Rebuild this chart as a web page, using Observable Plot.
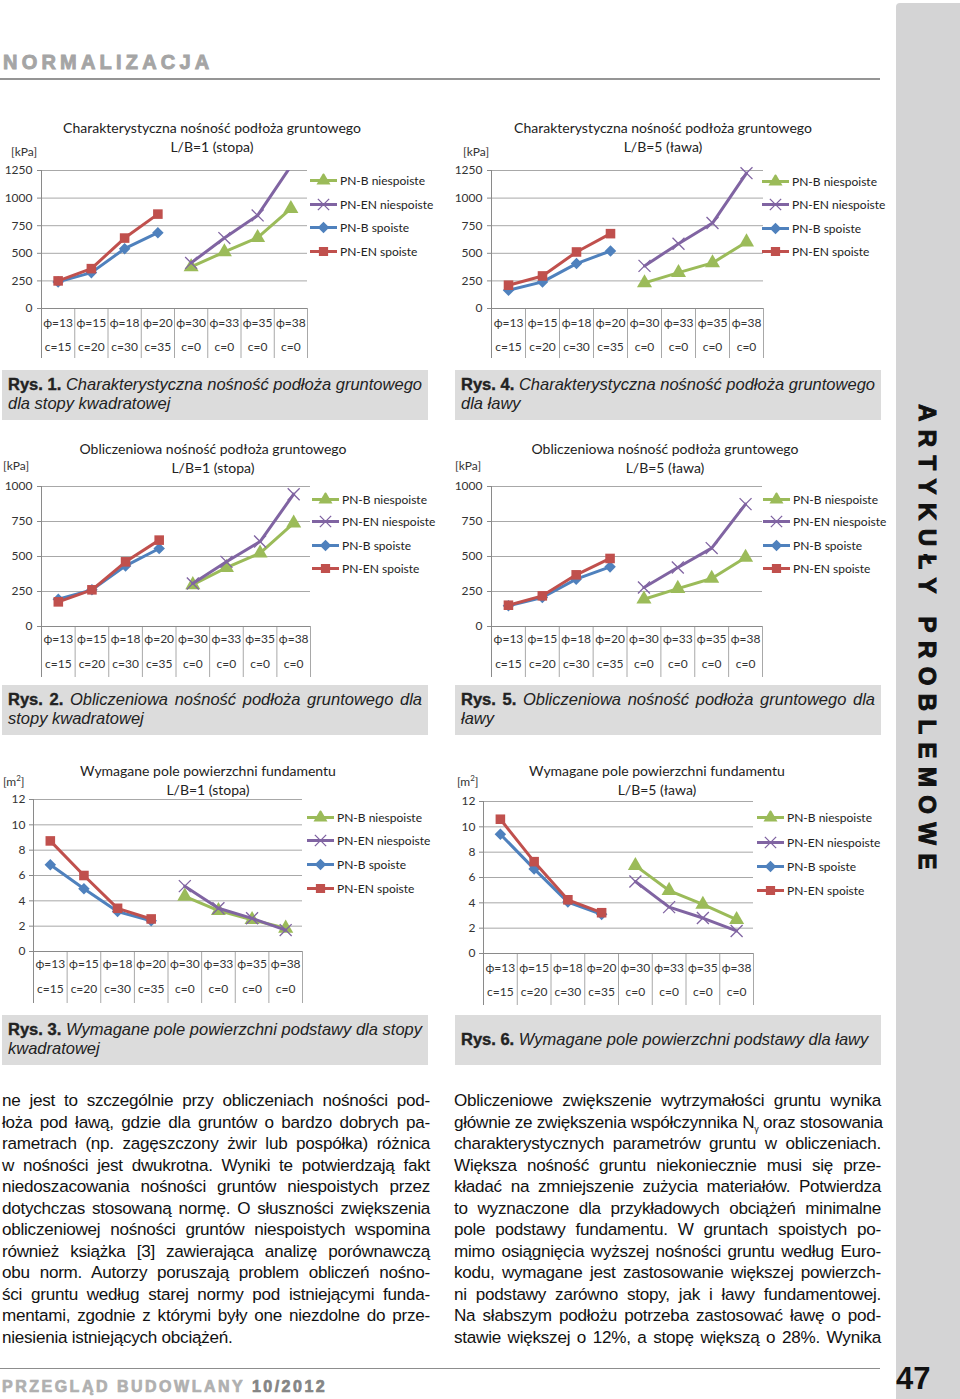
<!DOCTYPE html>
<html>
<head>
<meta charset="utf-8">
<script src="https://cdn.jsdelivr.net/npm/d3@7"></script>
<script src="https://cdn.jsdelivr.net/npm/@observablehq/plot@0.6"></script>
<style>
  body { margin: 0; background: #fff; }
  #page { position: relative; width: 960px; height: 1399px; overflow: hidden; background: #fff;
          font-family: "Liberation Sans", Arial, sans-serif; color: #1a1a1a; }
  .abs { position: absolute; }
  .ctitle { position: absolute; font-family: Lato, "Open Sans", sans-serif; font-size: 14px; color: #222;
            text-align: center; white-space: nowrap; transform: translate(-50%, -50%); }
  .unit { position: absolute; font-family: Lato, "Open Sans", sans-serif; font-size: 12px; color: #333;
          white-space: nowrap; transform: translateY(-50%); }
  .leg { position: absolute; font-family: Lato, "Open Sans", sans-serif; font-size: 12px; color: #222;
         white-space: nowrap; display: flex; align-items: center; transform: translateY(-50%); }
  .leg svg { margin-right: 3px; }
  .cap { position: absolute; background: #dcdcdc; box-sizing: border-box; padding: 5px 6px 0 6px;
         font-size: 16.5px; line-height: 19px; color: #222; }
  .cap b { font-weight: bold; font-style: normal; -webkit-text-stroke: 0.4px #222; }
  .cap i { font-style: italic; }
  .jl { text-align: justify; text-align-last: justify; white-space: nowrap; }
  .col { position: absolute; font-size: 17.1px; line-height: 21.5px; color: #111; letter-spacing: -0.25px; }
  .col div { white-space: nowrap; }
  .col .jl { text-align: justify; text-align-last: justify; }
</style>
</head>
<body>
<div id="page"></div>
<script>
// ---------------- DATA ----------------
const categories = ["ϕ=13","ϕ=15","ϕ=18","ϕ=20","ϕ=30","ϕ=33","ϕ=35","ϕ=38"];
const cohesion = ["c=15","c=20","c=30","c=35","c=0","c=0","c=0","c=0"];
const seriesNames = ["PN-B niespoiste","PN-EN niespoiste","PN-B spoiste","PN-EN spoiste"];
const seriesColors = ["#9BBB59","#8064A2","#4F81BD","#C0504D"];
const seriesSymbols = ["triangle","times","diamond2","square"];

const kpaTicksA = [0,250,500,750,1000,1250];
const kpaTicksB = [0,250,500,750,1000];
const areaTicks = [0,2,4,6,8,10,12];

// Rys. 1 – charakterystyczna nośność, stopa (kPa)
const rys1_pnbNiespoiste = [376, 512, 641, 904];
const rys1_pnenNiespoiste = [413, 638, 843, 1290];
const rys1_pnbSpoiste = [241, 325, 542, 687];
const rys1_pnenSpoiste = [250, 361, 638, 855];
// Rys. 4 – charakterystyczna nośność, ława (kPa)
const rys4_pnbNiespoiste = [232, 325, 413, 602];
const rys4_pnenNiespoiste = [386, 587, 774, 1226];
const rys4_pnbSpoiste = [166, 241, 407, 521];
const rys4_pnenSpoiste = [211, 295, 512, 678];
// Rys. 2 – obliczeniowa nośność, stopa (kPa)
const rys2_pnbNiespoiste = [298, 421, 524, 738];
const rys2_pnenNiespoiste = [307, 462, 607, 945];
const rys2_pnbSpoiste = [195, 262, 433, 557];
const rys2_pnenSpoiste = [176, 262, 462, 617];
// Rys. 5 – obliczeniowa nośność, ława (kPa)
const rys5_pnbNiespoiste = [195, 271, 343, 493];
const rys5_pnenNiespoiste = [279, 421, 560, 874];
const rys5_pnbSpoiste = [148, 207, 338, 426];
const rys5_pnenSpoiste = [152, 219, 369, 486];
// Rys. 3 – wymagane pole, stopa (m2)
const rys3_pnbNiespoiste = [4.36, 3.23, 2.51, 1.83];
const rys3_pnenNiespoiste = [5.16, 3.41, 2.62, 1.69];
const rys3_pnbSpoiste = [6.85, 4.95, 3.15, 2.43];
const rys3_pnenSpoiste = [8.73, 6.0, 3.41, 2.57];
// Rys. 6 – wymagane pole, ława (m2)
const rys6_pnbNiespoiste = [6.94, 4.97, 3.87, 2.67];
const rys6_pnenNiespoiste = [5.68, 3.66, 2.80, 1.78];
const rys6_pnbSpoiste = [9.42, 6.68, 4.06, 3.09];
const rys6_pnenSpoiste = [10.6, 7.25, 4.24, 3.22];

// ---------------- LAYOUT ----------------
const page = document.getElementById("page");
function el(tag, cls, style, html) {
  const e = document.createElement(tag);
  if (cls) e.className = cls;
  Object.assign(e.style, style || {});
  if (html != null) e.innerHTML = html;
  page.appendChild(e);
  return e;
}

const FONT = "Lato, 'Open Sans', sans-serif";

function drawChart(cfg) {
  const { series, yMax, ticks, left, frameLeft, frameRight, frameTop, frameBottom,
          phiDy, cDy, depth, tickPad, title1, title2, titleX, titleY1, titleY2,
          unit, unitX, unitY, legX, legY, clip } = cfg;
  const mt = 8, mb = depth + 6;
  const frameH = frameBottom - frameTop;
  const width = frameRight - left + 4;
  const height = mt + frameH + mb;
  const u = yMax / frameH; // data units per pixel

  const rows = [];
  series.forEach((vals, s) => {
    const offset = s < 2 ? 4 : 0; // niespoiste on the right half
    vals.forEach((v, i) => rows.push({ x: offset + i + 0.5, y: v, s }));
  });

  const order = [2, 3, 0, 1];
  const seriesMarks = [];
  for (const s of order) {
    const d = rows.filter(r => r.s === s);
    seriesMarks.push(Plot.line(d, { x: "x", y: "y", stroke: seriesColors[s], strokeWidth: 3, clip }));
    const inside = d.filter(r => r.y <= yMax);
    if (seriesSymbols[s] === "times") {
      seriesMarks.push(Plot.dot(inside, { x: "x", y: "y", symbol: "times", stroke: seriesColors[s], strokeWidth: 1.3, r: 5.5 }));
    } else {
      seriesMarks.push(Plot.dot(inside, { x: "x", y: "y", symbol: seriesSymbols[s], fill: seriesColors[s], stroke: "none",
        r: seriesSymbols[s] === "square" ? 5.4 : seriesSymbols[s] === "triangle" ? 5.6 : 5.2 }));
    }
  }

  const svg = Plot.plot({
    width, height,
    marginLeft: frameLeft - left, marginRight: 4, marginTop: mt, marginBottom: mb,
    x: { domain: [0, 8], axis: null },
    y: { domain: [0, yMax], axis: null },
    style: { fontFamily: FONT, fontSize: "12px", color: "#333", background: "transparent", overflow: "visible" },
    marks: [
      Plot.gridY(ticks.filter(t => t > 0), { stroke: "#a8a8a8", strokeOpacity: 1 }),
      Plot.ruleX(d3.range(1, 9), { x: d => d, y1: -depth * u, y2: 0, stroke: "#a8a8a8" }),
      Plot.ruleY([0], { stroke: "#8a8a8a" }),
      Plot.ruleX([0], { y1: -depth * u, y2: yMax, stroke: "#8a8a8a" }),
      Plot.axisY(ticks, { label: null, tickSize: 4, tickPadding: tickPad, stroke: "#8a8a8a", fill: "#333", fontSize: 12, tickFormat: d => String(d) }),
      Plot.text(categories, { x: (d, i) => i + 0.5, frameAnchor: "bottom", dy: phiDy, text: d => d, fontSize: 12, fill: "#333" }),
      Plot.text(cohesion, { x: (d, i) => i + 0.5, frameAnchor: "bottom", dy: cDy, text: d => d, fontSize: 12, fill: "#333" }),
      ...seriesMarks
    ]
  });
  svg.style.position = "absolute";
  svg.style.left = left + "px";
  svg.style.top = (frameTop - mt) + "px";
  page.appendChild(svg);

  el("div", "ctitle", { left: titleX + "px", top: titleY1 + "px" }, title1);
  el("div", "ctitle", { left: titleX + "px", top: titleY2 + "px" }, title2);
  el("div", "unit", { left: unitX + "px", top: unitY + "px" }, unit);

  // legend
  seriesNames.forEach((name, s) => {
    const item = el("div", "leg", { left: legX + "px", top: (legY[s]) + "px" });
    const ls = d3.create("svg").attr("width", 27).attr("height", 14);
    ls.append("line").attr("x1", 0).attr("x2", 27).attr("y1", 7).attr("y2", 7)
      .attr("stroke", seriesColors[s]).attr("stroke-width", 3);
    const symMap = { triangle: d3.symbolTriangle, times: d3.symbolTimes, diamond2: d3.symbolDiamond2, square: d3.symbolSquare };
    const p = ls.append("path").attr("transform", "translate(13.5,7)")
      .attr("d", d3.symbol(symMap[seriesSymbols[s]], Math.PI * 5.2 * 5.2)());
    if (seriesSymbols[s] === "times") p.attr("fill", "none").attr("stroke", seriesColors[s]).attr("stroke-width", 1.3);
    else p.attr("fill", seriesColors[s]);
    item.appendChild(ls.node());
    const t = document.createElement("span");
    t.textContent = name;
    item.appendChild(t);
  });
}

const titleCh = "Charakterystyczna nośność podłoża gruntowego";
const titleOb = "Obliczeniowa nośność podłoża gruntowego";
const titleWy = "Wymagane pole powierzchni fundamentu";

drawChart({ series: [rys1_pnbNiespoiste, rys1_pnenNiespoiste, rys1_pnbSpoiste, rys1_pnenSpoiste],
  yMax: 1250, ticks: kpaTicksA, left: 0, frameLeft: 41, frameRight: 307, frameTop: 170, frameBottom: 308,
  phiDy: 18, cDy: 42, depth: 50, tickPad: 5, clip: true,
  title1: titleCh, title2: "L/B=1 (stopa)", titleX: 212, titleY1: 127, titleY2: 146,
  unit: "[kPa]", unitX: 11, unitY: 151, legX: 310, legY: [180, 204, 227, 251] });

drawChart({ series: [rys4_pnbNiespoiste, rys4_pnenNiespoiste, rys4_pnbSpoiste, rys4_pnenSpoiste],
  yMax: 1250, ticks: kpaTicksA, left: 450, frameLeft: 491, frameRight: 763, frameTop: 170, frameBottom: 308,
  phiDy: 18, cDy: 42, depth: 50, tickPad: 5, clip: true,
  title1: titleCh, title2: "L/B=5 (ława)", titleX: 663, titleY1: 127, titleY2: 146,
  unit: "[kPa]", unitX: 463, unitY: 151, legX: 762, legY: [181, 204, 228, 251] });

drawChart({ series: [rys2_pnbNiespoiste, rys2_pnenNiespoiste, rys2_pnbSpoiste, rys2_pnenSpoiste],
  yMax: 1000, ticks: kpaTicksB, left: 0, frameLeft: 41, frameRight: 310, frameTop: 486, frameBottom: 626,
  phiDy: 16, cDy: 41, depth: 51, tickPad: 5, clip: false,
  title1: titleOb, title2: "L/B=1 (stopa)", titleX: 213, titleY1: 448, titleY2: 467,
  unit: "[kPa]", unitX: 3, unitY: 465, legX: 312, legY: [499, 521, 545, 568] });

drawChart({ series: [rys5_pnbNiespoiste, rys5_pnenNiespoiste, rys5_pnbSpoiste, rys5_pnenSpoiste],
  yMax: 1000, ticks: kpaTicksB, left: 450, frameLeft: 491, frameRight: 762, frameTop: 486, frameBottom: 626,
  phiDy: 16, cDy: 41, depth: 51, tickPad: 5, clip: false,
  title1: titleOb, title2: "L/B=5 (ława)", titleX: 665, titleY1: 448, titleY2: 467,
  unit: "[kPa]", unitX: 455, unitY: 465, legX: 763, legY: [499, 521, 545, 568] });

drawChart({ series: [rys3_pnbNiespoiste, rys3_pnenNiespoiste, rys3_pnbSpoiste, rys3_pnenSpoiste],
  yMax: 12, ticks: areaTicks, left: 0, frameLeft: 33, frameRight: 302, frameTop: 799, frameBottom: 951,
  phiDy: 16, cDy: 41, depth: 52, tickPad: 4, clip: false,
  title1: titleWy, title2: "L/B=1 (stopa)", titleX: 208, titleY1: 770, titleY2: 789,
  unit: "[m<sup style='font-size:8px'>2</sup>]", unitX: 3, unitY: 781, legX: 307, legY: [817, 840, 864, 888] });

drawChart({ series: [rys6_pnbNiespoiste, rys6_pnenNiespoiste, rys6_pnbSpoiste, rys6_pnenSpoiste],
  yMax: 12, ticks: areaTicks, left: 450, frameLeft: 483, frameRight: 753, frameTop: 801, frameBottom: 953,
  phiDy: 18, cDy: 42, depth: 52, tickPad: 4, clip: false,
  title1: titleWy, title2: "L/B=5 (ława)", titleX: 657, titleY1: 770, titleY2: 789,
  unit: "[m<sup style='font-size:8px'>2</sup>]", unitX: 457, unitY: 781, legX: 757, legY: [817, 842, 866, 890] });

// ---------------- CAPTIONS ----------------
function caption(left, top, lines, single) {
  const c = el("div", "cap", { left: left + "px", top: top + "px", width: "426px", height: "50px",
    paddingTop: single ? "15px" : "5px" });
  lines.forEach((ln, i) => {
    const d = document.createElement("div");
    if (i < lines.length - 1) d.className = "jl";
    d.style.whiteSpace = "nowrap";
    d.innerHTML = ln;
    c.appendChild(d);
  });
}
caption(2, 370, ["<b>Rys. 1.</b> <i>Charakterystyczna nośność podłoża gruntowego</i>", "<i>dla stopy kwadratowej</i>"]);
caption(455, 370, ["<b>Rys. 4.</b> <i>Charakterystyczna nośność podłoża gruntowego</i>", "<i>dla ławy</i>"]);
caption(2, 685, ["<b>Rys. 2.</b> <i>Obliczeniowa nośność podłoża gruntowego dla</i>", "<i>stopy kwadratowej</i>"]);
caption(455, 685, ["<b>Rys. 5.</b> <i>Obliczeniowa nośność podłoża gruntowego dla</i>", "<i>ławy</i>"]);
caption(2, 1015, ["<b>Rys. 3.</b> <i>Wymagane pole powierzchni podstawy dla stopy</i>", "<i>kwadratowej</i>"]);
caption(455, 1015, ["<b>Rys. 6.</b> <i>Wymagane pole powierzchni podstawy dla ławy</i>"], true);

// ---------------- BODY TEXT ----------------
const leftLines = [
  "ne jest to szczególnie przy obliczeniach nośności pod-",
  "łoża pod ławą, gdzie dla gruntów o bardzo dobrych pa-",
  "rametrach (np. zagęszczony żwir lub pospółka) różnica",
  "w nośności jest dwukrotna. Wyniki te potwierdzają fakt",
  "niedoszacowania nośności gruntów niespoistych przez",
  "dotychczas stosowaną normę. O słuszności zwiększenia",
  "obliczeniowej nośności gruntów niespoistych wspomina",
  "również książka [3] zawierająca analizę porównawczą",
  "obu norm. Autorzy poruszają problem obliczeń nośno-",
  "ści gruntu według starej normy pod istniejącymi funda-",
  "mentami, zgodnie z którymi były one niezdolne do prze-",
  "niesienia istniejących obciążeń."
];
const rightLines = [
  "Obliczeniowe zwiększenie wytrzymałości gruntu wynika",
  "głównie ze zwiększenia współczynnika N<sub style='font-size:9px'>γ</sub> oraz stosowania",
  "charakterystycznych parametrów gruntu w obliczeniach.",
  "Większa nośność gruntu niekoniecznie musi się prze-",
  "kładać na zmniejszenie zużycia materiałów. Potwierdza",
  "to wyznaczone dla przykładowych obciążeń minimalne",
  "pole podstawy fundamentu. W gruntach spoistych po-",
  "mimo osiągnięcia wyższej nośności gruntu według Euro-",
  "kodu, wymagane jest zastosowanie większej powierzch-",
  "ni podstawy zarówno stopy, jak i ławy fundamentowej.",
  "Na słabszym podłożu potrzeba zastosować ławę o pod-",
  "stawie większej o 12%, a stopę większą o 28%. Wynika"
];
function column(left, width, lines, lastJustified) {
  const c = el("div", "col", { left: left + "px", top: "1090px", width: width + "px" });
  lines.forEach((ln, i) => {
    const d = document.createElement("div");
    d.style.height = "21.5px";
    d.style.lineHeight = "21.5px";
    if (i < lines.length - 1 || lastJustified) d.className = "jl";
    d.innerHTML = ln;
    c.appendChild(d);
  });
}
column(2, 428, leftLines, false);
column(454, 427, rightLines, true);

// ---------------- PAGE FURNITURE ----------------
el("div", "abs", { left: "3px", top: "50px", fontSize: "20px", fontWeight: "bold", letterSpacing: "4.2px",
  color: "#a5a5a5", lineHeight: "24px", whiteSpace: "nowrap", webkitTextStroke: "0.9px #a5a5a5" }, "NORMALIZACJA");
el("div", "abs", { left: "0px", top: "78px", width: "880px", height: "2px", background: "#959595" });
el("div", "abs", { left: "896px", top: "3px", width: "64px", height: "1396px", background: "#d4d4d5",
  borderTopLeftRadius: "4px" });
el("div", "abs", { left: "913px", top: "404px", writingMode: "vertical-rl", fontSize: "24px", fontWeight: "900",
  letterSpacing: "8.4px", color: "#111", lineHeight: "28px", whiteSpace: "nowrap", webkitTextStroke: "1px #111" },
  "ARTYKUŁY PROBLEMOWE");
el("div", "abs", { left: "0px", top: "1368px", width: "880px", height: "1px", background: "#8d8d8d" });
el("div", "abs", { left: "2px", top: "1378px", fontSize: "16px", fontWeight: "bold", letterSpacing: "2.5px",
  color: "#b0b0b0", lineHeight: "18px", whiteSpace: "nowrap", webkitTextStroke: "0.7px #b0b0b0" },
  "PRZEGLĄD BUDOWLANY <span style='color:#858585;-webkit-text-stroke:0.7px #858585'>10/2012</span>");
el("div", "abs", { left: "896px", top: "1362px", fontSize: "31px", fontWeight: "bold", color: "#111",
  lineHeight: "34px", whiteSpace: "nowrap" }, "47");
</script>
</body>
</html>
